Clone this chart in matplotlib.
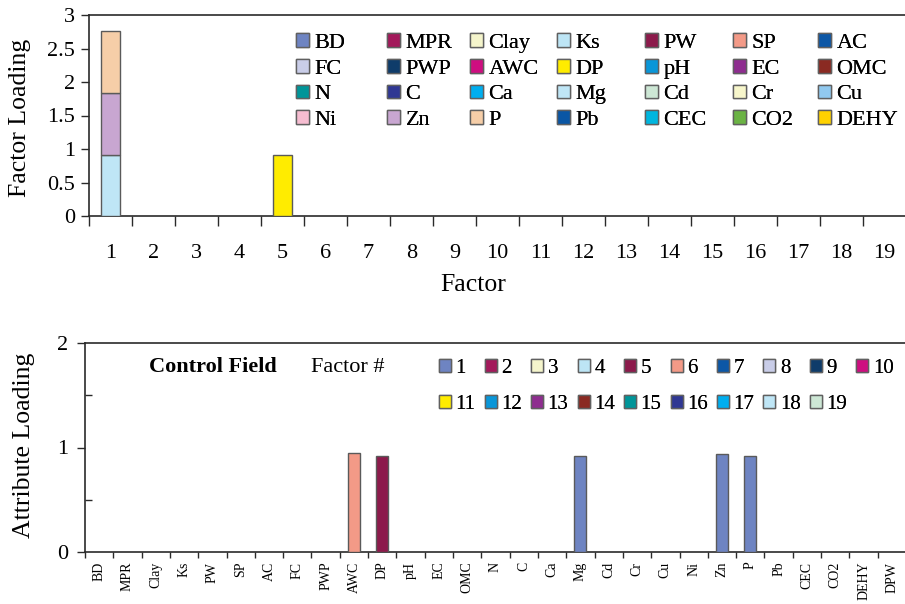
import matplotlib
matplotlib.use("Agg")
import matplotlib.pyplot as plt
import matplotlib.patches as mpatches
import numpy as np

plt.rcParams['font.family'] = ['Liberation Serif', 'DejaVu Serif']

# ---------------- data ----------------
legend_attrs = ['BD', 'MPR', 'Clay', 'Ks', 'PW', 'SP', 'AC',
                'FC', 'PWP', 'AWC', 'DP', 'pH', 'EC', 'OMC',
                'N', 'C', 'Ca', 'Mg', 'Cd', 'Cr', 'Cu',
                'Ni', 'Zn', 'P', 'Pb', 'CEC', 'CO2', 'DEHY']
attr_colors = ['#6E84C2', '#A3195B', '#F5F5CC', '#BDE5F5', '#8C1A4B', '#F39A87', '#0C57A6',
               '#C9CDE8', '#0F3C6A', '#CE0E80', '#FFEC00', '#0A96D8', '#8E2D8F', '#8A2A22',
               '#009599', '#2F3793', '#00AEEF', '#BFE6F6', '#CDE7D5', '#F7F6CB', '#91C9EF',
               '#F6BDD1', '#C8A6D1', '#F6CEA8', '#0A56A4', '#00B6DF', '#6BB344', '#FFD200']

factors = list(range(1, 20))
factor_colors = ['#6E84C2', '#A3195B', '#F5F5CC', '#BDE5F5', '#8C1A4B', '#F39A87', '#0C57A6',
                 '#C9CDE8', '#0F3C6A', '#CE0E80', '#FFEC00', '#0A96D8', '#8E2D8F', '#8A2A22',
                 '#009599', '#2F3793', '#00AEEF', '#BFE6F6', '#CDE7D5']

# top chart: stacked loadings per factor
stack_factor = [1, 1, 1, 5]
stack_attr = ['Mg', 'Zn', 'P', 'DP']
stack_value = [0.91, 0.93, 0.92, 0.91]

# bottom chart: attribute loadings
attributes = ['BD', 'MPR', 'Clay', 'Ks', 'PW', 'SP', 'AC', 'FC', 'PWP', 'AWC', 'DP', 'pH', 'EC',
              'OMC', 'N', 'C', 'Ca', 'Mg', 'Cd', 'Cr', 'Cu', 'Ni', 'Zn', 'P', 'Pb', 'CEC', 'CO2',
              'DEHY', 'DPW']
load_attr = ['AWC', 'DP', 'Mg', 'Zn', 'P']
load_value = [0.95, 0.92, 0.92, 0.94, 0.92]
load_factor = [6, 5, 1, 1, 1]

EDGE = '#5A5A5A'
SPINE = '#2A2A2A'

W, H = 905, 604
fig = plt.figure(figsize=(W / 100, H / 100), dpi=100)

def ax_rect(l, t, r, b):
    return [l / W, 1 - b / H, (r - l) / W, (b - t) / H]

# ================= top chart =================
ax1 = fig.add_axes(ax_rect(89, 15, 906, 216))
cum = {}
for f, a, v in zip(stack_factor, stack_attr, stack_value):
    b = cum.get(f, 0.0)
    ax1.bar(f, v, bottom=b, width=0.44, color=attr_colors[legend_attrs.index(a)],
            edgecolor=EDGE, linewidth=1.0, zorder=3)
    cum[f] = b + v
ax1.set_xlim(0.5, 19.5)
ax1.set_ylim(0, 3)
ax1.set_yticks(np.arange(0, 3.01, 0.5))
ax1.set_yticklabels(['0', '0.5', '1', '1.5', '2', '2.5', '3'])
ax1.set_xticks(factors)
ax1.set_xticks(np.arange(0.5, 19.6, 1), minor=True)
ax1.tick_params(axis='x', which='major', length=0, pad=20, labelsize=16)
ax1.tick_params(axis='x', which='minor', length=7, width=1.0, color=SPINE, direction='out')
ax1.tick_params(axis='y', which='major', length=6, width=1.0, color=SPINE, pad=4, labelsize=16)
for s in ['left', 'bottom', 'top']:
    ax1.spines[s].set_color(SPINE)
    ax1.spines[s].set_linewidth(1.2)
ax1.spines['right'].set_visible(False)
ax1.set_ylabel('Factor Loading', fontsize=18.5)
ax1.yaxis.set_label_coords(-0.071, 0.49)
ax1.set_xlabel('Factor', fontsize=18.5)
ax1.xaxis.set_label_coords(0.47, -0.29)

handles = [mpatches.Patch(facecolor=c, edgecolor='#606060', linewidth=1.0, label=n)
           for n, c in zip(legend_attrs, attr_colors)]
col_x = [296, 387, 470, 557, 645, 733, 818]
for c, x in enumerate(col_x):
    idx = [r * 7 + c for r in range(4)]
    leg = fig.legend([handles[i] for i in idx], [legend_attrs[i] for i in idx],
                     loc='upper left', bbox_to_anchor=(x / W, 1 - 33 / H),
                     frameon=False, fontsize=16, borderpad=0, borderaxespad=0,
                     handlelength=0.58, handleheight=0.58, handletextpad=0.25,
                     labelspacing=0.27)
    fig.add_artist(leg)

# ================= bottom chart =================
ax2 = fig.add_axes(ax_rect(85, 343, 906, 552))
xpos = np.arange(len(attributes))
for a, v, f in zip(load_attr, load_value, load_factor):
    ax2.bar(attributes.index(a), v, width=0.42, color=factor_colors[f - 1],
            edgecolor=EDGE, linewidth=1.0, zorder=3)
ax2.set_xlim(-0.5, len(attributes) - 0.5)
ax2.set_ylim(0, 2)
ax2.set_yticks([0, 1, 2])
ax2.set_yticks([0.5, 1.5], minor=True)
ax2.tick_params(axis='y', which='major', length=6, width=1.0, color=SPINE, pad=6, labelsize=16)
ax2.tick_params(axis='y', which='minor', length=5, width=1.0, color=SPINE, direction='in')
ax2.set_xticks(xpos)
ax2.set_xticklabels(attributes, rotation=90, fontsize=10)
ax2.set_xticks(np.arange(-0.5, len(attributes), 1), minor=True)
ax2.tick_params(axis='x', which='major', length=0, pad=7)
ax2.tick_params(axis='x', which='minor', length=4, width=1.0, color=SPINE, direction='out')
for s in ['left', 'bottom', 'top']:
    ax2.spines[s].set_color(SPINE)
    ax2.spines[s].set_linewidth(1.2)
ax2.spines['right'].set_visible(False)
ax2.set_ylabel('Attribute Loading', fontsize=18.5)
ax2.yaxis.set_label_coords(-0.061, 0.512)

ax2.text(149 / W, 1 - 367 / H, 'Control Field', transform=fig.transFigure,
         fontsize=16, fontweight='bold', ha='left', va='center')
ax2.text(311 / W, 1 - 367 / H, 'Factor #', transform=fig.transFigure,
         fontsize=16, ha='left', va='center')

fhandles = [mpatches.Patch(facecolor=c, edgecolor='#606060', linewidth=1.0, label=str(f))
            for f, c in zip(factors, factor_colors)]
order = []
for c in range(10):
    order.append(c)
    if c + 10 < len(factors):
        order.append(c + 10)
fleg = fig.legend([fhandles[i] for i in order], [str(factors[i]) for i in order],
                  loc='upper left', bbox_to_anchor=(439 / W, 1 - 359 / H), ncol=10,
                  frameon=False, fontsize=15, borderpad=0, borderaxespad=0,
                  handlelength=0.58, handleheight=0.58, handletextpad=0.22,
                  labelspacing=0.82, columnspacing=0.43)
fig.add_artist(fleg)

fig.savefig('out.png', dpi=100)
